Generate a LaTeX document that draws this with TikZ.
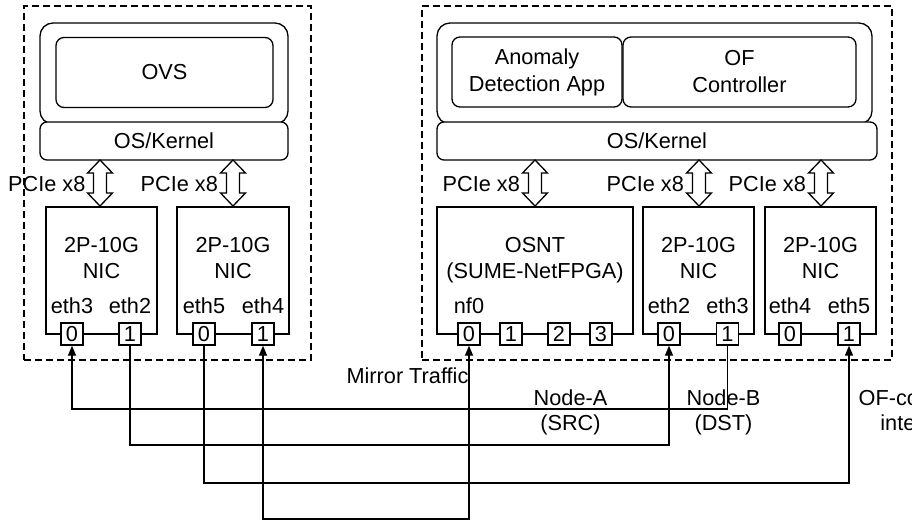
\documentclass[tikz,border=0pt]{standalone}
\usepackage{fontspec}
\setmainfont{Liberation Sans}
\usetikzlibrary{arrows.meta}
\newcommand\pcieArr[1]{%
  \draw[fill=white] (#1,160) -- (#1+12.5,173) -- (#1+6.5,173) -- (#1+6.5,193)
    -- (#1+12.5,193) -- (#1,206) -- (#1-12.5,193) -- (#1-6.5,193)
    -- (#1-6.5,173) -- (#1-12.5,173) -- cycle;}
\begin{document}
\begin{tikzpicture}[x=1pt,y=-1pt,line width=1.3pt,
  every node/.style={font=\fontsize{21.7}{26}\selectfont, inner sep=0pt},
  dashbox/.style={draw, dash pattern=on 7pt off 4pt, line width=1.2pt},
  hostbox/.style={draw, rounded corners=13pt},
  appbox/.style={draw, rounded corners=8pt, align=center},
  kernbox/.style={draw, fill=white, rounded corners=7pt},
  nicbox/.style={draw, fill=white},
  port/.style={draw, fill=white, minimum size=22pt},
  twoline/.style={align=center},
  lbl/.style={font=\fontsize{21.7}{25.5}\selectfont, align=center},
  tip/.style={-{Triangle[length=10pt,width=8pt]}},
  tipboth/.style={{Triangle[length=10pt,width=8pt]}-{Triangle[length=10pt,width=8pt]}},
  tipstart/.style={{Triangle[length=10pt,width=8pt]}-}
]
\useasboundingbox (0,0) rectangle (912,520);
\fill[white] (0,0) rectangle (912,520);
\clip (0,0) rectangle (912,520);

% servers (dashed)
\node[dashbox, minimum width=287pt, minimum height=354pt] (srvL) at (167.5,183) {};
\node[dashbox, minimum width=470pt, minimum height=354pt] (srvR) at (657,183) {};

% left host
\node[hostbox, minimum width=248pt, minimum height=101pt] (hostL) at (164,73.5) {};
\node[appbox, minimum width=217pt, minimum height=70pt] (ovs) at (164.5,72.5) {OVS};
\node[kernbox, minimum width=248pt, minimum height=38pt] (kernL) at (164,141) {OS/Kernel};

% right host
\node[hostbox, minimum width=435pt, minimum height=101pt] (hostR) at (654.5,73.5) {};
\node[appbox, minimum width=170pt, minimum height=70pt, font=\fontsize{21.7}{27}\selectfont] (anom) at (537,72) {Anomaly\\Detection App};
\node[appbox, minimum width=233pt, minimum height=70pt, font=\fontsize{21.7}{27}\selectfont] (ofc) at (739.5,72) {OF\\Controller};
\node[kernbox, minimum width=440pt, minimum height=38pt] (kernR) at (657,141) {OS/Kernel};

% PCIe arrows
\pcieArr{100}
\pcieArr{233}
\pcieArr{535}
\pcieArr{699}
\pcieArr{821}
\node[anchor=east] (pcL1) at (86,184) {PCIe x8};
\node[anchor=east] (pcL2) at (218.5,184) {PCIe x8};
\node[anchor=east] (pcR1) at (520.5,184) {PCIe x8};
\node[anchor=east] (pcR2) at (684.5,184) {PCIe x8};
\node[anchor=east] (pcR3) at (806.5,184) {PCIe x8};

% NICs
\node[nicbox, minimum width=111pt, minimum height=127pt] (nicL1) at (101.5,270.5) {};
\node[nicbox, minimum width=112pt, minimum height=127pt] (nicL2) at (233,270.5) {};
\node[nicbox, minimum width=196pt, minimum height=127pt] (osnt) at (535,270.5) {};
\node[nicbox, minimum width=111pt, minimum height=127pt] (nicA) at (698.5,270.5) {};
\node[nicbox, minimum width=111pt, minimum height=127pt] (nicB) at (820.5,270.5) {};

\node[twoline] (nicL1t) at (101.5,258) {2P-10G\\NIC};
\node[twoline] (nicL2t) at (233,258) {2P-10G\\NIC};
\node[twoline] (osntt) at (535,259.8) {OSNT\\(SUME-NetFPGA)};
\node[twoline] (nicAt) at (698.5,258) {2P-10G\\NIC};
\node[twoline] (nicBt) at (820.5,258) {2P-10G\\NIC};

% interface names
\node (eL10) at (72,306) {eth3};
\node (eL11) at (130,306) {eth2};
\node (eL20) at (204,306) {eth5};
\node (eL21) at (263,306) {eth4};
\node (eOS0) at (469,306) {nf0};
\node (eA0) at (669,306) {eth2};
\node (eA1) at (727.5,306) {eth3};
\node (eB0) at (790,306) {eth4};
\node (eB1) at (849,306) {eth5};

% ports
\node[port] (L1p0) at (72,334) {0};
\node[port] (L1p1) at (130,334) {1};
\node[port] (L2p0) at (204,334) {0};
\node[port] (L2p1) at (263,334) {1};
\node[port] (OSp0) at (469,334) {0};
\node[port] (OSp1) at (511,334) {1};
\node[port] (OSp2) at (559,334) {2};
\node[port] (OSp3) at (601,334) {3};
\node[port] (Ap0) at (669,334) {0};
\node[port] (Ap1) at (727.5,334) {1};
\node[port] (Bp0) at (790,334) {0};
\node[port] (Bp1) at (849,334) {1};

% links
\draw[tipstart] (L1p0.south) -- (L1p0.south |- 0,409) -| (Ap1.south);
\draw[tip] (L1p1.south) -- (L1p1.south |- 0,445) -| (Ap0.south);
\draw[tip] (L2p0.south) -- (L2p0.south |- 0,483) -| (Bp1.south);
\draw[tipboth] (L2p1.south) -- (L2p1.south |- 0,519) -| (OSp0.south);

% labels
\node[anchor=east] (mirror) at (469,375.5) {Mirror Traffic};
\node[lbl] (nodeA) at (570.5,412.5) {Node-A\\(SRC)};
\node[lbl] (nodeB) at (723.5,412.5) {Node-B\\(DST)};
\node[lbl] (ofif) at (922,410) {OF-controller\\interface};
\end{tikzpicture}
\end{document}
